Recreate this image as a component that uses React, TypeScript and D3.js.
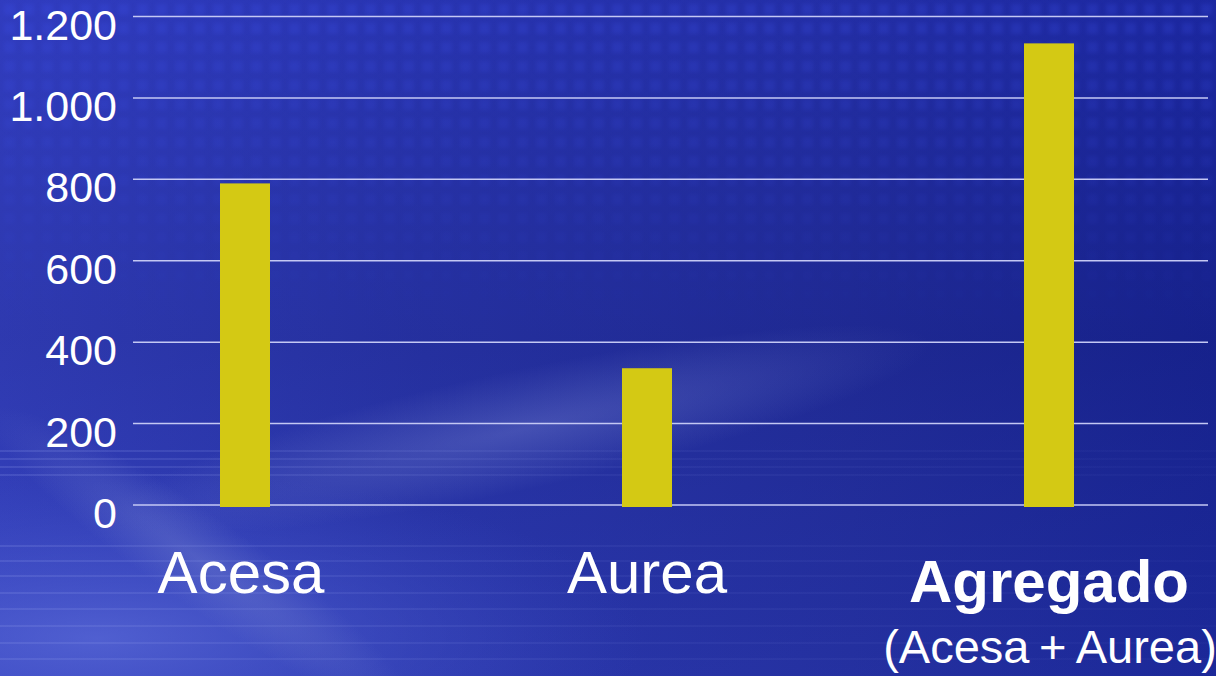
import React from "react";
import * as d3 from "d3";

const categories = ["Acesa", "Aurea", "Agregado"];
const values = [790, 336, 1134];
const yTicks = [0, 200, 400, 600, 800, 1000, 1200];
const tickLabels = ["0", "200", "400", "600", "800", "1.000", "1.200"];
const subLabel = "(Acesa\u2009+\u2009Aurea)";

const W = 1216;
const H = 676;

export default function App() {
  const y = d3.scaleLinear().domain([0, 1200]).range([505, 16.5]);
  const x = d3.scalePoint<string>().domain(categories).range([245, 1049]);
  const barW = 50;
  const streakYs = [450, 458, 466, 474, 545, 560, 575, 592, 608, 625, 642, 658];
  const dotsX = d3.range(0, W, 19);
  const dotsY = d3.range(0, 320, 19);

  return (
    <svg width={W} height={H} style={{ position: "absolute", left: 0, top: 0, display: "block" }}
      fontFamily="'Liberation Sans', Arial, sans-serif">
      <defs>
        <linearGradient id="bgH" x1="0" y1="0" x2="1" y2="0">
          <stop offset="0" stopColor="#3440bf" />
          <stop offset="0.35" stopColor="#2733a8" />
          <stop offset="0.7" stopColor="#1f2a98" />
          <stop offset="1" stopColor="#14208f" />
        </linearGradient>
        <linearGradient id="bgV" x1="0" y1="0" x2="0" y2="1">
          <stop offset="0" stopColor="#2a35c0" stopOpacity="0.35" />
          <stop offset="0.5" stopColor="#1d2580" stopOpacity="0.25" />
          <stop offset="1" stopColor="#3a4ac0" stopOpacity="0.2" />
        </linearGradient>
        <linearGradient id="dotFade" x1="0" y1="0" x2="0" y2="1">
          <stop offset="0" stopColor="#fff" stopOpacity="1" />
          <stop offset="1" stopColor="#fff" stopOpacity="0" />
        </linearGradient>
        <mask id="dotMask">
          <rect x={0} y={0} width={W} height={330} fill="url(#dotFade)" />
        </mask>
        <filter id="soft" x="-5%" y="-5%" width="110%" height="110%">
          <feGaussianBlur stdDeviation="2.2" />
        </filter>
        <radialGradient id="glowBL" cx="0.08" cy="0.9" r="0.45">
          <stop offset="0" stopColor="#5a6ad8" stopOpacity="0.75" />
          <stop offset="1" stopColor="#4050c8" stopOpacity="0" />
        </radialGradient>
        <radialGradient id="glowMid" cx="0.5" cy="0.5" r="0.5">
          <stop offset="0" stopColor="#7480d0" stopOpacity="0.4" />
          <stop offset="1" stopColor="#7480d0" stopOpacity="0" />
        </radialGradient>
        <linearGradient id="streakG" x1="0" y1="0" x2="1" y2="0">
          <stop offset="0" stopColor="#8a96e8" stopOpacity="0.22" />
          <stop offset="0.5" stopColor="#8a96e8" stopOpacity="0.08" />
          <stop offset="1" stopColor="#8a96e8" stopOpacity="0.03" />
        </linearGradient>
      </defs>
      <rect x={0} y={0} width={W} height={H} fill="url(#bgH)" />
      <rect x={0} y={0} width={W} height={H} fill="url(#bgV)" />
      <g opacity={0.22} filter="url(#soft)" mask="url(#dotMask)">
        {dotsY.map((dy) =>
          dotsX.map((dx) => (
            <rect key={dx + "-" + dy} x={dx + 4} y={dy + 4} width={11} height={11} fill="#3f52f0" />
          ))
        )}
      </g>
      <rect x={0} y={300} width={W} height={H - 300} fill="url(#glowBL)" />
      <ellipse cx={520} cy={430} rx={420} ry={60} fill="url(#glowMid)" transform="rotate(-12 520 430)" />
      <ellipse cx={200} cy={560} rx={260} ry={45} fill="url(#glowMid)" transform="rotate(35 200 560)" />
      {streakYs.map((sy, i) => (
        <rect key={i} x={0} y={sy} width={W} height={2} fill="url(#streakG)" />
      ))}

      {yTicks.map((t) => (
        <line key={t} x1={133} x2={1208} y1={y(t)} y2={y(t)} stroke="#c4c8f4" strokeWidth={1.5} />
      ))}
      {yTicks.map((t, i) => (
        <text key={"l" + t} x={117} y={y(t) + 23} textAnchor="end" fill="#ffffff" fontSize={43}>
          {tickLabels[i]}
        </text>
      ))}

      {categories.map((c, i) => (
        <rect key={c} x={(x(c) as number) - barW / 2} y={y(values[i])} width={barW}
          height={y(0) - y(values[i]) + 2} fill="#d4c914" />
      ))}

      {categories.map((c, i) => (
        <text key={"c" + c} x={(x(c) as number) - (i === 0 ? 4 : 0)} y={i === 2 ? 602 : 593}
          textAnchor="middle" fill="#ffffff" fontSize={60} fontWeight={i === 2 ? "bold" : "normal"}>
          {c}
        </text>
      ))}
      <text x={1050} y={663} textAnchor="middle" fill="#ffffff" fontSize={47}>
        {subLabel}
      </text>
    </svg>
  );
}
